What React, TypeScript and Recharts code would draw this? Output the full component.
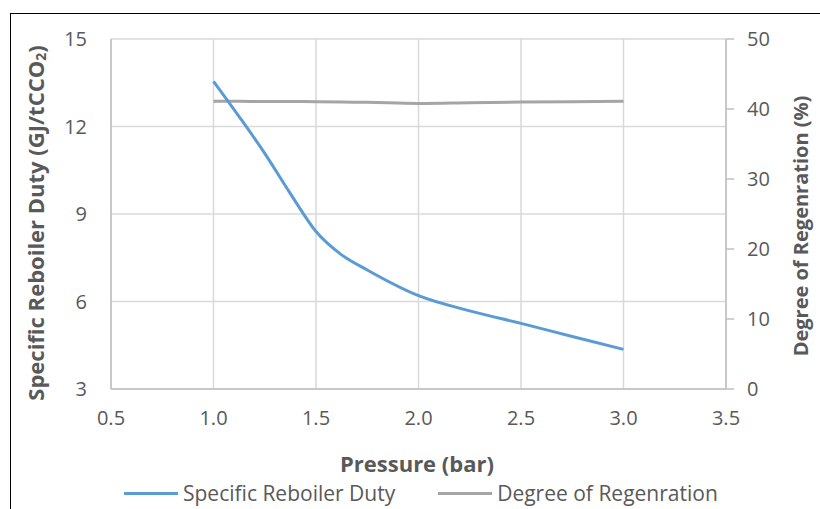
import React from 'react';
import { LineChart, Line, XAxis, YAxis, CartesianGrid, Label } from 'recharts';

const pressure = [1.0, 1.125, 1.25, 1.375, 1.5, 1.625, 1.75, 2.0, 2.25, 2.5, 2.75, 3.0];
const reboilerDuty = [13.55, 12.34, 11.08, 9.7, 8.4, 7.6, 7.08, 6.2, 5.68, 5.25, 4.8, 4.36];
const regeneration = [41.1, 41.09, 41.08, 41.06, 41.05, 41.0, 40.95, 40.8, 40.9, 41.0, 41.05, 41.1];

const xTicks = [0.5, 1.0, 1.5, 2.0, 2.5, 3.0, 3.5];
const leftTicks = [3, 6, 9, 12, 15];
const rightTicks = [0, 10, 20, 30, 40, 50];

const data = pressure.map((p, i) => ({
  pressure: p,
  duty: reboilerDuty[i],
  regen: regeneration[i],
}));

const FONT = '"Open Sans", "Noto Sans", sans-serif';
const TEXT = '#595959';
const GRID = '#d9d9d9';
const BLUE = '#5b9bd5';
const GRAY = '#a5a5a5';

const LeftTitle = () => {
  const cx = 35;
  const cy = 223;
  return (
    <text
      x={cx}
      y={cy}
      transform={`rotate(-90, ${cx}, ${cy})`}
      textAnchor="middle"
      dominantBaseline="central"
      fill={TEXT}
      fontSize={22}
      fontWeight="bold"
      fontFamily={FONT}
    >
      Specific Reboiler Duty (GJ/tCCO
      <tspan fontSize={14} dy={5}>2</tspan>
      <tspan dy={-5}>)</tspan>
    </text>
  );
};

const RightTitle = () => {
  const cx = 800;
  const cy = 226;
  return (
    <text
      x={cx}
      y={cy}
      transform={`rotate(-90, ${cx}, ${cy})`}
      textAnchor="middle"
      dominantBaseline="central"
      fill={TEXT}
      fontSize={20}
      fontWeight="bold"
      fontFamily={FONT}
    >
      Degree of Regenration (%)
    </text>
  );
};

export default function App() {
  return (
    <div style={{ position: 'absolute', left: 0, top: 0, width: 820, height: 509, background: '#fff', overflow: 'hidden', fontFamily: FONT }}>
      <div style={{ position: 'absolute', left: 10, top: 13, width: 830, height: 520, border: '1px solid #000' }} />
      <LineChart
        width={820}
        height={509}
        data={data}
        margin={{ top: 39, right: 34, left: 51, bottom: 90 }}
        style={{ position: 'absolute', left: 0, top: 0 }}
      >
        <CartesianGrid stroke={GRID} strokeWidth={1.5} yAxisId="left" />
        <XAxis
          dataKey="pressure"
          type="number"
          domain={[0.5, 3.5]}
          ticks={xTicks}
          tickFormatter={(v) => Number(v).toFixed(1)}
          axisLine={{ stroke: '#bfbfbf', strokeWidth: 1.5 }}
          tickLine={false}
          tickSize={0}
          tickMargin={22}
          height={30}
          tick={{ fill: TEXT, fontSize: 20, fontFamily: FONT }}
        />
        <YAxis
          yAxisId="left"
          domain={[3, 15]}
          ticks={leftTicks}
          width={60}
          axisLine={{ stroke: '#bfbfbf', strokeWidth: 1.5 }}
          tickLine={false}
          tickSize={0}
          tickMargin={24}
          tick={{ fill: TEXT, fontSize: 20, fontFamily: FONT }}
        >
          <Label content={<LeftTitle />} />
        </YAxis>
        <YAxis
          yAxisId="right"
          orientation="right"
          domain={[0, 50]}
          ticks={rightTicks}
          width={60}
          axisLine={{ stroke: '#bfbfbf', strokeWidth: 1.5 }}
          tickLine={{ stroke: '#bfbfbf', strokeWidth: 1.5 }}
          tickSize={8}
          tickMargin={13}
          tick={{ fill: TEXT, fontSize: 20, fontFamily: FONT }}
        >
          <Label content={<RightTitle />} />
        </YAxis>
        <Line
          yAxisId="right"
          type="monotone"
          dataKey="regen"
          stroke={GRAY}
          strokeWidth={3}
          dot={false}
          isAnimationActive={false}
        />
        <Line
          yAxisId="left"
          type="monotone"
          dataKey="duty"
          stroke={BLUE}
          strokeWidth={3}
          dot={false}
          isAnimationActive={false}
        />
      </LineChart>
      <div style={{ position: 'absolute', left: 340, top: 448, color: TEXT, fontSize: 22, fontWeight: 'bold', lineHeight: '30px' }}>
        Pressure (bar)
      </div>
      <div style={{ position: 'absolute', left: 124, top: 478, display: 'flex', alignItems: 'center', color: TEXT, fontSize: 21, lineHeight: '30px' }}>
        <span style={{ display: 'inline-block', width: 54, height: 3, background: BLUE, marginRight: 5 }} />
        <span>Specific Reboiler Duty</span>
        <span style={{ display: 'inline-block', width: 54, height: 3, background: GRAY, marginLeft: 43, marginRight: 5 }} />
        <span>Degree of Regenration</span>
      </div>
    </div>
  );
}
